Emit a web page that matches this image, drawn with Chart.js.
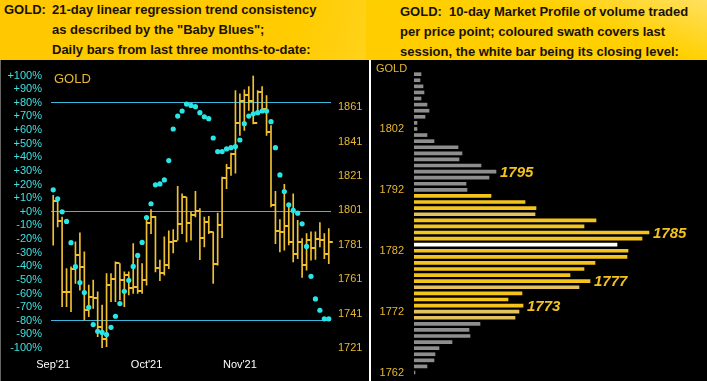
<!DOCTYPE html>
<html>
<head>
    <meta charset="UTF-8">
    <title>GOLD: trend consistency and market profile</title>
    <script src="https://cdn.jsdelivr.net/npm/chart.js"></script>
    <style>
        body {
            margin: 0;
            background: #000;
            width: 707px;
            height: 381px;
            position: relative;
            overflow: hidden;
            font-family: Arial, "Liberation Sans", sans-serif;
        }
        .hdr {
            position: absolute;
            top: 0;
            height: 60px;
            color: #1a1200;
            font-weight: bold;
            font-size: 13px;
            line-height: 20px;
        }
        #hdrL { left: 0; width: 366px; background: linear-gradient(100deg, #ffc800 0%, #ffcc00 80%, #ffd21a 100%); }
        #hdrR { left: 366px; width: 341px; background: linear-gradient(200deg, #ffe060 0%, #ffd000 35%, #ffcc00 100%); }
        .hdr .tag { position: absolute; left: 4px; top: 0; }
        .hdr .txt { position: absolute; left: 52px; top: 0; white-space: nowrap; }
        #hdrR .txt { left: 34px; top: 1.5px; }
        .panel { position: absolute; top: 60px; height: 321px; }
        #left { left: 0; width: 366px; border-left: 1px solid #666; box-sizing: border-box; }
        #right { left: 366px; width: 341px; }
        #divider { position: absolute; left: 369px; top: 60px; width: 2px; height: 321px; background: #fff; }
    </style>
</head>
<body>
    <div class="hdr" id="hdrL">
        <div class="tag">GOLD:</div>
        <div class="txt">21-day linear regression trend consistency<br>as described by the "Baby Blues";<br>Daily bars from last three months-to-date:</div>
    </div>
    <div class="hdr" id="hdrR">
        <div class="txt">GOLD:&nbsp; 10-day Market Profile of volume traded<br>per price point; coloured swath covers last<br>session, the white bar being its closing level:</div>
    </div>
    <div class="panel" id="left"><canvas id="trend"></canvas></div>
    <div class="panel" id="right"><canvas id="profile"></canvas></div>
    <div id="divider"></div>

    <script>
        // trading days, Sep - Nov 2021
        const dates = [
            '09-01','09-02','09-03','09-07','09-08','09-09','09-10','09-13','09-14','09-15','09-16',
            '09-17','09-20','09-21','09-22','09-23','09-24','09-27','09-28','09-29','09-30',
            '10-01','10-04','10-05','10-06','10-07','10-08','10-11','10-12','10-13','10-14','10-15',
            '10-18','10-19','10-20','10-21','10-22','10-25','10-26','10-27','10-28','10-29',
            '11-01','11-02','11-03','11-04','11-05','11-08','11-09','11-10','11-11','11-12','11-15',
            '11-16','11-17','11-18','11-19','11-22','11-23','11-24','11-26','11-29','11-30'
        ];
        const monthTickDates = ['09-01', '10-01', '11-01'];
        const monthTickLabels = ["Sep'21", "Oct'21", "Nov'21"];

        const highs = [
            1809.8, 1808.4, 1797.2, 1767.2, 1768.2, 1782.7, 1787.9, 1776.9, 1757.6, 1760.5, 1753.7,
            1745.9, 1764.3, 1764.3, 1771.1, 1770.1, 1765.3, 1765.3, 1781.7, 1773.0, 1770.1,
            1795.3, 1801.5, 1797.6, 1772.1, 1785.6, 1789.1, 1789.9, 1815.0, 1810.7, 1808.8, 1800.1,
            1812.1, 1802.0, 1797.2, 1797.6, 1788.5, 1799.5, 1820.4, 1827.8, 1834.3, 1870.7,
            1868.8, 1871.1, 1873.0, 1879.4, 1870.7, 1873.0, 1867.8, 1850.4, 1812.1, 1795.7, 1816.2,
            1804.9, 1810.7, 1795.3, 1784.6, 1787.5, 1788.5, 1788.5, 1793.9, 1787.5, 1790.4
        ];
        const lows = [
            1780.8, 1791.4, 1745.0, 1745.0, 1742.1, 1758.5, 1754.7, 1737.2, 1739.2, 1744.0, 1727.6,
            1720.8, 1721.8, 1747.9, 1747.9, 1748.9, 1745.0, 1751.8, 1752.7, 1752.7, 1752.7,
            1757.6, 1787.5, 1765.3, 1760.1, 1763.4, 1767.2, 1776.3, 1783.7, 1787.5, 1782.7, 1783.7,
            1797.2, 1772.4, 1779.8, 1787.5, 1758.5, 1769.2, 1785.2, 1813.6, 1821.4, 1822.7,
            1844.6, 1847.5, 1859.1, 1851.3, 1857.2, 1859.1, 1844.6, 1803.0, 1781.7, 1776.9, 1777.9,
            1781.0, 1771.1, 1773.0, 1762.0, 1766.3, 1772.1, 1772.5, 1779.8, 1773.0, 1770.1
        ];
        const closes = [
            1806.5, 1794.9, 1753.7, 1753.7, 1767.2, 1774.9, 1768.2, 1743.0, 1750.4, 1749.8, 1733.4,
            1726.0, 1757.6, 1761.4, 1770.5, 1760.8, 1763.4, 1756.0, 1756.6, 1754.3, 1760.5,
            1793.7, 1797.2, 1767.8, 1764.7, 1769.2, 1782.7, 1783.3, 1793.0, 1808.8, 1793.7, 1798.2,
            1800.7, 1785.0, 1794.3, 1788.5, 1770.1, 1792.8, 1820.0, 1825.6, 1833.6, 1851.7,
            1864.5, 1868.2, 1864.5, 1851.7, 1869.7, 1860.1, 1846.5, 1804.0, 1789.1, 1788.5, 1792.0,
            1782.7, 1775.9, 1782.7, 1769.4, 1783.7, 1779.2, 1784.6, 1783.7, 1775.9, 1782.7
        ];
        // "Baby Blues" trend consistency, %
        const trendPct = [
            16.1, 9.5, 0, -7.1, -22.7, -40.3, -52, -59.3, -70.1, -82.8, -87.7,
            -88.6, -90.1, -84.8, -76.7, -67.4, -58.4, -50.3, -40.1, -32, -22.5,
            -4.2, 5.9, 19.8, 20.5, 23.4, 37.6, 60.8, 70.3, 74.0, 79.1, 78.1,
            77.2, 72.8, 69.8, 68.4, 54.2, 44.2, 44.2, 46.2, 47.1, 47.9,
            52.7, 64.7, 70.3, 72.0, 72.8, 74.0, 74.0, 66.2, 47.1, 27.1, 14.9,
            5.1, 1.0, -1.0, -8.8, -25.4, -47.4, -64.0, -72.3, -78.6, -78.6
        ];
        const priceTicks = [1721, 1741, 1761, 1781, 1801, 1821, 1841, 1861];
        const pctRefLines = [80, 0, -80];

        // 10-day market profile
        const profilePrices = [
            1811, 1810, 1809, 1808, 1807, 1806, 1805, 1804, 1803, 1802,
            1801, 1800, 1799, 1798, 1797, 1796, 1795, 1794, 1793, 1792,
            1791, 1790, 1789, 1788, 1787, 1786, 1785, 1784, 1783, 1782,
            1781, 1780, 1779, 1778, 1777, 1776, 1775, 1774, 1773, 1772,
            1771, 1770, 1769, 1768, 1767, 1766, 1765, 1764, 1763, 1762
        ];
        const profileVolumes = [
            7, 6, 9, 10, 7, 13, 15, 11, 3, 3,
            13, 20, 44, 48, 45, 67, 82, 75, 52, 53,
            77, 111, 122, 121, 182, 170, 235, 228, 203, 214,
            213, 181, 170, 156, 176, 165, 108, 94, 109, 105,
            101, 66, 55, 56, 38, 25, 21, 20, 13, 1
        ];
        const sessionLow = 1771;
        const sessionHigh = 1791;
        const sessionClose = 1783;
        const paleLevels = [1788, 1776, 1772, 1771];
        const calloutPrices = [1795, 1785, 1777, 1773];
        const profileTicks = [1762, 1772, 1782, 1792, 1802];

        const GOLD = '#f0c030';
        const LABEL_GOLD = '#e8b830';

        // close tick: small flag to the right of the bar
        const tick = document.createElement('canvas');
        tick.width = 10;
        tick.height = 2;
        const tctx = tick.getContext('2d');
        tctx.fillStyle = GOLD;
        tctx.fillRect(5, 0, 4, 2);

        const trendLabel = {
            id: 'trendLabel',
            afterDraw(chart) {
                const c = chart.ctx, a = chart.chartArea;
                c.save();
                c.font = '13px Arial';
                c.fillStyle = LABEL_GOLD;
                c.textBaseline = 'alphabetic';
                c.fillText('GOLD', a.left + 3, a.top + 7);
                c.restore();
            }
        };

        new Chart(document.getElementById('trend'), {
            data: {
                labels: dates,
                datasets: [
                    {
                        type: 'bar',
                        label: 'High-Low',
                        data: dates.map((d, i) => [lows[i], highs[i]]),
                        backgroundColor: GOLD,
                        barThickness: 1,
                        yAxisID: 'yPrice',
                        order: 2
                    },
                    {
                        type: 'line',
                        label: 'Close',
                        data: closes,
                        showLine: false,
                        pointStyle: tick,
                        yAxisID: 'yPrice',
                        order: 1
                    },
                    {
                        type: 'line',
                        label: 'Baby Blues',
                        data: trendPct,
                        showLine: false,
                        pointRadius: 2.6,
                        pointBorderWidth: 0,
                        pointBackgroundColor: '#28e6e6',
                        yAxisID: 'yPct',
                        order: 0
                    }
                ]
            },
            options: {
                responsive: true,
                maintainAspectRatio: false,
                animation: false,
                layout: { padding: { top: 15, left: 0, right: 0, bottom: 0 } },
                plugins: { legend: { display: false }, tooltip: { enabled: false } },
                scales: {
                    x: {
                        type: 'category',
                        grid: { display: false, drawTicks: false },
                        border: { display: false },
                        afterFit: s => { s.height = 33; },
                        ticks: {
                            autoSkip: false,
                            maxRotation: 0,
                            color: '#ffffff',
                            font: { family: 'Arial', size: 11 },
                            padding: 10,
                            callback: (v, i) => {
                                const k = monthTickDates.indexOf(dates[i]);
                                return k >= 0 ? monthTickLabels[k] : '';
                            }
                        }
                    },
                    yPct: {
                        position: 'left',
                        min: -100,
                        max: 100,
                        afterFit: s => { s.width = 50; },
                        border: { display: false },
                        grid: {
                            drawTicks: false,
                            color: c => pctRefLines.includes(c.tick.value) ? '#3ab8dc' : 'transparent'
                        },
                        ticks: {
                            stepSize: 10,
                            autoSkip: false,
                            padding: 9,
                            color: '#3ee0e0',
                            font: { family: 'Arial', size: 11 },
                            callback: v => (v >= 0 ? '+' : '') + v + '%'
                        }
                    },
                    yPrice: {
                        position: 'right',
                        min: 1721,
                        max: 1879.4,
                        afterFit: s => { s.width = 35; },
                        afterBuildTicks: s => { s.ticks = priceTicks.map(v => ({ value: v })); },
                        border: { display: false },
                        grid: { display: false, drawTicks: false },
                        ticks: {
                            autoSkip: false,
                            padding: 7,
                            color: LABEL_GOLD,
                            font: { family: 'Arial', size: 11 },
                            callback: v => String(v)
                        }
                    }
                }
            },
            plugins: [trendLabel]
        });

        // market profile colours: grey outside last session, gold swath, white close
        const profileColors = profilePrices.map(p => {
            if (p === sessionClose) return '#ffffff';
            if (p < sessionLow || p > sessionHigh) return '#8e8e8e';
            return paleLevels.includes(p) ? '#e2c25e' : '#f4c41c';
        });

        const profileLabels = {
            id: 'profileLabels',
            afterDatasetsDraw(chart) {
                const c = chart.ctx;
                const xs = chart.scales.x, ys = chart.scales.y;
                c.save();
                c.font = '11px Arial';
                c.fillStyle = LABEL_GOLD;
                c.textBaseline = 'alphabetic';
                c.fillText('GOLD', 10, 12);
                c.font = 'italic bold 15px Arial';
                c.fillStyle = '#f2c21e';
                c.textBaseline = 'middle';
                calloutPrices.forEach(p => {
                    const i = profilePrices.indexOf(p);
                    c.fillText(String(p), xs.getPixelForValue(profileVolumes[i]) + 4, ys.getPixelForValue(p) + 1);
                });
                c.restore();
            }
        };

        new Chart(document.getElementById('profile'), {
            type: 'bar',
            data: {
                datasets: [{
                    label: 'Volume',
                    data: profilePrices.map((p, i) => ({ x: profileVolumes[i], y: p })),
                    backgroundColor: profileColors,
                    barThickness: 3
                }]
            },
            options: {
                indexAxis: 'y',
                responsive: true,
                maintainAspectRatio: false,
                animation: false,
                layout: { padding: { top: 2, bottom: 3, left: 0, right: 0 } },
                plugins: { legend: { display: false }, tooltip: { enabled: false } },
                scales: {
                    y: {
                        type: 'linear',
                        offset: false,
                        min: 1761.1,
                        max: 1813,
                        afterFit: s => {
                            s.width = 48;
                            s.paddingTop = 0;
                            s.paddingBottom = 0;
                        },
                        afterBuildTicks: s => { s.ticks = profileTicks.map(v => ({ value: v })); },
                        border: { display: false },
                        grid: { display: false, drawTicks: false, offset: false },
                        ticks: {
                            padding: 10,
                            color: LABEL_GOLD,
                            font: { family: 'Arial', size: 11 },
                            callback: v => String(v)
                        }
                    },
                    x: {
                        type: 'linear',
                        min: 0,
                        max: 293,
                        display: false
                    }
                }
            },
            plugins: [profileLabels]
        });
    </script>
</body>
</html>
